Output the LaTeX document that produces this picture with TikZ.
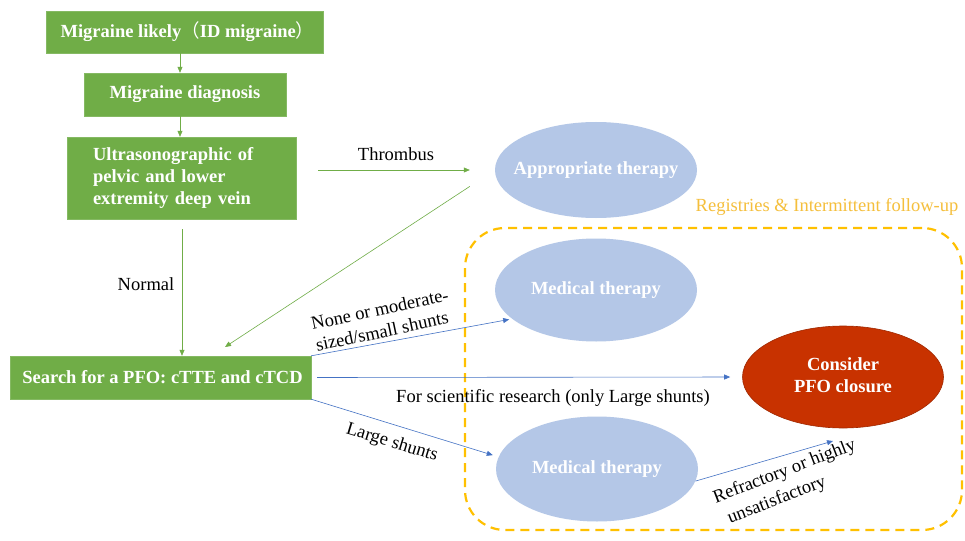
\documentclass[tikz,border=0pt]{standalone}
\usepackage{fontspec}
\setmainfont{Liberation Serif}
\newfontfamily\cjk{Noto Sans CJK SC}
\usetikzlibrary{arrows.meta,shapes.geometric,calc}
\definecolor{gboxc}{HTML}{70AD47}
\definecolor{lbluec}{HTML}{B4C7E7}
\definecolor{dredc}{HTML}{C83200}
\definecolor{abluec}{HTML}{4472C4}
\definecolor{dyellowc}{HTML}{FFC000}
\definecolor{tyellowc}{HTML}{F5BF3C}
\begin{document}
\begin{tikzpicture}[x=1pt,y=-1pt,
  txt/.style={font=\fontsize{18.5}{22}\selectfont, text=black, inner sep=0pt},
  gbox/.style={rectangle, fill=gboxc, draw=gboxc!85!white, text=white,
    font=\fontsize{18.5}{22}\selectfont\bfseries, inner sep=0pt},
  oval/.style={ellipse, fill=lbluec, text=white, inner sep=0pt,
    font=\fontsize{18.5}{22}\selectfont\bfseries, minimum width=202pt},
  garrow/.style={draw=gboxc, line width=0.6pt, -{Triangle[length=6pt,width=5pt]}},
  barrow/.style={draw=abluec, line width=0.6pt, -{Triangle[length=6pt,width=5pt]}}
]
\useasboundingbox[fill=white] (0,0) rectangle (965,540);

% green boxes
\node[gbox, minimum width=277pt, minimum height=42pt] (b1) at (184.5,32)
  {\hspace*{6pt}Migraine likely{\cjk\mdseries （}ID migraine{\cjk\mdseries ）}};
\node[gbox, minimum width=202pt, minimum height=43pt] (b2) at (185,94.5)
  {Migraine diagnosis};
\node[gbox, minimum height=82pt, text width=177pt, inner xsep=26pt, align=left] (b3) at (181.5,178)
  {Ultrasonographic of\\pelvic and lower\\extremity deep vein};
\node[gbox, minimum width=301pt, minimum height=43pt] (srch) at (160.5,377.5)
  {\hspace*{4pt}Search for a PFO: cTTE and cTCD};

% follow-up frame
\node[draw=dyellowc, line width=2.2pt, dash pattern=on 9pt off 6pt, rounded corners=40pt,
  minimum width=497pt, minimum height=302pt, inner sep=0pt] (reg) at (713.5,379) {};
\node[txt, text=tyellowc] (regl) at (827,207) {Registries \& Intermittent follow-up};

% ellipses
\node[oval, minimum height=96pt] (app) at (596,170) {\makebox[0pt]{Appropriate therapy}};
\node[oval, minimum height=103pt] (mt1) at (596,290) {\makebox[0pt]{Medical therapy}};
\node[oval, minimum height=105pt] (mt2) at (597,469) {\makebox[0pt]{Medical therapy}};
\node[ellipse, fill=dredc, draw=dredc!80!black, line width=0.6pt, text=white, inner sep=0pt,
  font=\fontsize{18.5}{22}\selectfont\bfseries, minimum width=201pt, minimum height=102pt]
  (pfo) at (843,377) {\makebox[0pt]{\begin{tabular}{@{}c@{}}Consider\\PFO closure\end{tabular}}};

% coordinates for free ends
\coordinate (s1) at (225,347);
\coordinate (r1) at (833,441);
\coordinate (c1) at (180,53);
\coordinate (c2) at (180,116);
\coordinate (c3) at (182,219);

% green connectors
\draw[garrow] (c1) -- (c1 |- b2.north);
\draw[garrow] (c2) -- (c2 |- b3.north);
\draw[garrow, shorten <=22pt, shorten >=25pt] (b3.east |- app.west) -- (app.west);
\draw[garrow, shorten <=10pt] (c3) -- (c3 |- srch.north);
\draw[garrow, shorten <=30pt] (app.west) -- (s1);

% blue connectors
\draw[barrow, shorten >=3pt] (srch.north east) -- (mt1.199);
\draw[barrow, shorten <=6pt, shorten >=12pt] (srch.east) -- (pfo.west);
\draw[barrow, shorten >=6pt] (srch.south east) -- (mt2.173);
\draw[barrow] (mt2.-7) -- (r1);

% labels
\node[txt] (lthr) at (396,154) {Thrombus};
\node[txt] (lnor) at (146,284) {Normal};
\node[txt, rotate=12, align=left] (lnone) at (382,320) {None or moderate-\\sized/small shunts};
\node[txt] (lsci) at (553,398) {For scientific research (only Large shunts)};
\node[txt, rotate=-17] (llarge) at (392,443) {Large shunts};
\node[txt, rotate=21, align=left, font=\fontsize{18.5}{24}\selectfont] (lref) at (789,483)
  {Refractory or highly\\\hspace*{6pt}unsatisfactory};
\end{tikzpicture}
\end{document}
